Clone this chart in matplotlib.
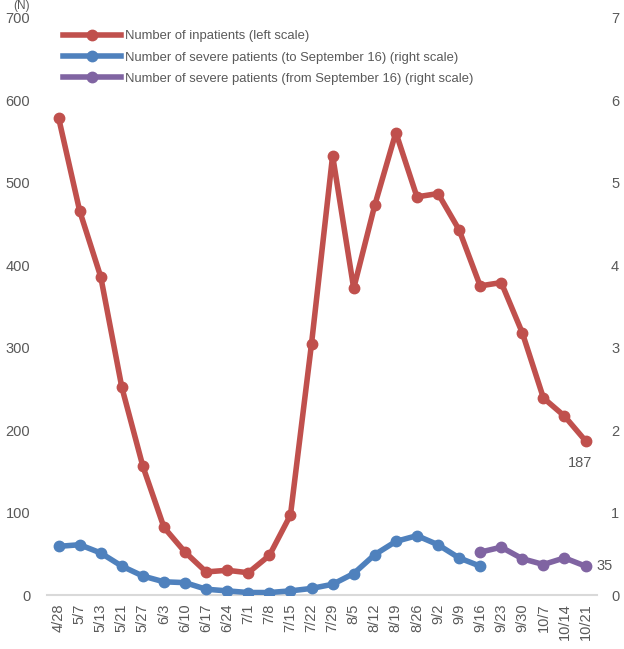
import matplotlib.pyplot as plt
from matplotlib.ticker import FuncFormatter

plt.rcParams['font.family'] = ['Liberation Sans', 'DejaVu Sans']

dates = ['4/28', '5/7', '5/13', '5/21', '5/27', '6/3', '6/10', '6/17', '6/24', '7/1',
         '7/8', '7/15', '7/22', '7/29', '8/5', '8/12', '8/19', '8/26', '9/2', '9/9',
         '9/16', '9/23', '9/30', '10/7', '10/14', '10/21']
inpatients = [579, 466, 386, 252, 156, 82, 52, 28, 30, 27,
              48, 97, 305, 533, 372, 473, 561, 483, 487, 443,
              375, 379, 318, 239, 217, 187]
severe_to = [59, 61, 51, 35, 23, 16, 15, 7, 5, 3,
             3, 5, 8, 13, 26, 49, 65, 72, 61, 45, 35]
severe_from = [52, 58, 44, 37, 45, 35]

red = '#C0504D'
blue = '#4F81BD'
purple = '#8064A2'
gray = '#595959'

fig = plt.figure(figsize=(6.24, 6.49), dpi=100)
ax = fig.add_axes([0.0753, 0.0832, 0.8817, 0.8891])
ax2 = ax.twinx()

x = list(range(len(dates)))
l1, = ax.plot(x, inpatients, color=red, lw=4, marker='o', ms=7.5)
l2, = ax2.plot(x[:len(severe_to)], severe_to, color=blue, lw=4, marker='o', ms=7.5)
l3, = ax2.plot(x[20:], severe_from, color=purple, lw=4, marker='o', ms=7.5)

ax.set_ylim(0, 700)
ax2.set_ylim(0, 700)
ax.set_xlim(-0.55, len(dates) - 0.45)
ax.set_yticks(range(0, 701, 100))
ax2.set_yticks(range(0, 701, 100))
ax2.yaxis.set_major_formatter(FuncFormatter(lambda v, p: f'{v/100:.0f}'))
ax.set_xticks(x)
ax.set_xticklabels(dates, rotation=90)

for a in (ax, ax2):
    for s in a.spines.values():
        s.set_visible(False)
    a.tick_params(length=0, labelsize=10.5, colors=gray)
ax.spines['bottom'].set_visible(True)
ax.spines['bottom'].set_color('#D9D9D9')
ax.spines['bottom'].set_linewidth(1.5)
ax.tick_params(axis='y', pad=12)
ax2.tick_params(axis='y', pad=10)
ax.tick_params(axis='x', pad=6)

ax.annotate(str(inpatients[-1]), (x[-1], inpatients[-1]), xytext=(-4, -16),
            textcoords='offset points', ha='center', va='center', fontsize=10.5, color=gray)
ax2.annotate(str(severe_from[-1]), (x[-1], severe_from[-1]), xytext=(14, 0),
             textcoords='offset points', ha='center', va='center', fontsize=10.5, color=gray)

fig.text(0.022, 1.0, '(N)', fontsize=8.5, color=gray, va='top')

ax.legend([l1, l2, l3],
          ['Number of inpatients (left scale)',
           'Number of severe patients (to September 16) (right scale)',
           'Number of severe patients (from September 16) (right scale)'],
          loc='upper left', bbox_to_anchor=(0.02, 0.988), frameon=False,
          fontsize=9.4, handlelength=4.4, labelcolor=gray, labelspacing=0.7,
          handletextpad=0.3, borderaxespad=0)

fig.savefig('out.png')
